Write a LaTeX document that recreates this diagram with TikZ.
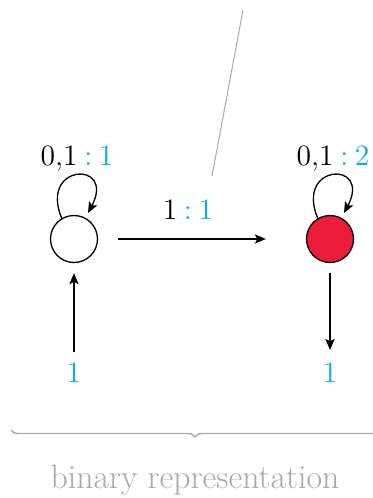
\documentclass[tikz,border=0pt]{standalone}
\usetikzlibrary{arrows.meta,decorations.pathreplacing}
\definecolor{cy}{RGB}{0,174,239}
\definecolor{rd}{RGB}{237,28,58}
\definecolor{gr}{RGB}{168,168,170}
\begin{document}
\begin{tikzpicture}[x=0.5pt,y=-0.5pt,
  state/.style={circle,draw,line width=0.65pt,minimum size=23.5pt,inner sep=0pt},
  arr/.style={-{Stealth[length=5.5pt,width=4.6pt,inset=1.2pt]},line width=0.65pt},
  lbl/.style={font=\fontsize{14.8}{17}\selectfont,inner sep=0pt,anchor=base},
  glbl/.style={font=\fontsize{16.9}{19}\selectfont,inner sep=0pt,anchor=base,text=gr}]
\useasboundingbox (0,0) rectangle (373,498);
\clip (0,0) rectangle (373,498);
% states
\node[state] (q0) at (74,239) {};
\node[state,fill=rd] (q1) at (330,239) {};
% input / output labels
\node[lbl,text=cy] (i0) at (74,382) {1};
\node[lbl,text=cy] (o1) at (330,382) {1};
% transition labels
\node[lbl] (t01) at (188,219) {1\textcolor{cy}{\hspace{0.22em}:\hspace{0.22em}1}};
\node[lbl] (l0) at (77,165) {0,1\textcolor{cy}{\hspace{0.22em}:\hspace{0.22em}1}};
\node[lbl] (l1) at (333,165) {0,1\textcolor{cy}{\hspace{0.22em}:\hspace{0.22em}2}};
% arrows
\draw[arr,shorten <=10pt,shorten >=20pt] (q0) -- (q1);
\draw[arr,shorten <=5pt,shorten >=5pt] (i0.north) -- (q0);
\draw[arr,shorten <=5pt,shorten >=6pt] (q1) -- (o1.north);
% self loops
\coordinate (a0) at (62,219);
\coordinate (b0) at (88,213);
\coordinate (a1) at (318,219);
\coordinate (b1) at (344,213);
\draw[arr] (a0) .. controls (38,163) and (116,160) .. (b0);
\draw[arr] (a1) .. controls (294,163) and (372,160) .. (b1);
% gray pointer line
\coordinate (g1) at (243,10);
\coordinate (g2) at (212,176);
\draw[gr,line width=0.5pt] (g1) -- (g2);
% brace
\coordinate (bl) at (11,430);
\coordinate (br) at (379,430);
\draw[gr,line width=0.7pt,decorate,decoration={brace,mirror,amplitude=3.5pt}] (bl) -- (br);
\node[glbl] (cap) at (195,488) {binary representation};
\end{tikzpicture}
\end{document}
